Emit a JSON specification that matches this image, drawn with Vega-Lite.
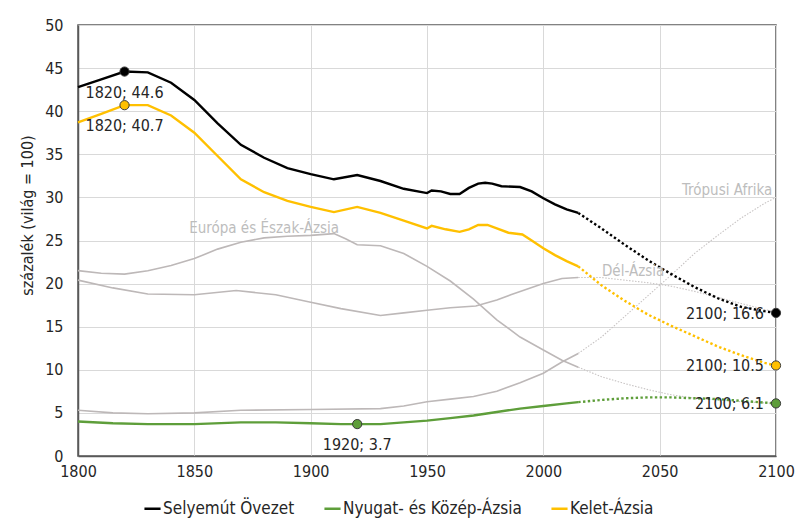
{
  "$schema": "https://vega.github.io/schema/vega-lite/v6.json",
  "autosize": {"type": "none"},
  "padding": {"left": 78, "top": 25, "right": 22, "bottom": 71},
  "width": 698,
  "height": 431,
  "background": "white",
  "config": {
    "font": "DejaVu Sans Condensed",
    "view": {"stroke": "#595959", "strokeWidth": 1.5},
    "axis": {
      "labelFont": "DejaVu Sans Condensed",
      "labelFontSize": 16,
      "labelColor": "#262626",
      "gridColor": "#d9d9d9",
      "gridWidth": 1,
      "ticks": false,
      "domainColor": "#595959",
      "domainWidth": 1.5
    },
    "legend": {
      "labelFont": "DejaVu Sans Condensed",
      "labelFontSize": 17,
      "labelColor": "#262626",
      "labelLimit": 400
    }
  },
  "resolve": {"scale": {"color": "independent"}},
  "datasets": {
    "lines": [
      {"year": 1800, "series": "Selyemút Övezet", "part": "hist", "value": 42.8},
      {"year": 1810, "series": "Selyemút Övezet", "part": "hist", "value": 43.7},
      {"year": 1820, "series": "Selyemút Övezet", "part": "hist", "value": 44.6},
      {"year": 1830, "series": "Selyemút Övezet", "part": "hist", "value": 44.5},
      {"year": 1840, "series": "Selyemút Övezet", "part": "hist", "value": 43.3},
      {"year": 1850, "series": "Selyemút Övezet", "part": "hist", "value": 41.3},
      {"year": 1860, "series": "Selyemút Övezet", "part": "hist", "value": 38.6},
      {"year": 1870, "series": "Selyemút Övezet", "part": "hist", "value": 36.1},
      {"year": 1880, "series": "Selyemút Övezet", "part": "hist", "value": 34.6},
      {"year": 1890, "series": "Selyemút Övezet", "part": "hist", "value": 33.4},
      {"year": 1900, "series": "Selyemút Övezet", "part": "hist", "value": 32.7},
      {"year": 1910, "series": "Selyemút Övezet", "part": "hist", "value": 32.1},
      {"year": 1920, "series": "Selyemút Övezet", "part": "hist", "value": 32.6},
      {"year": 1930, "series": "Selyemút Övezet", "part": "hist", "value": 31.9},
      {"year": 1940, "series": "Selyemút Övezet", "part": "hist", "value": 31.0},
      {"year": 1950, "series": "Selyemút Övezet", "part": "hist", "value": 30.5},
      {"year": 1952, "series": "Selyemút Övezet", "part": "hist", "value": 30.8},
      {"year": 1956, "series": "Selyemút Övezet", "part": "hist", "value": 30.7},
      {"year": 1960, "series": "Selyemút Övezet", "part": "hist", "value": 30.4},
      {"year": 1964, "series": "Selyemút Övezet", "part": "hist", "value": 30.4},
      {"year": 1968, "series": "Selyemút Övezet", "part": "hist", "value": 31.1},
      {"year": 1972, "series": "Selyemút Övezet", "part": "hist", "value": 31.6},
      {"year": 1975, "series": "Selyemút Övezet", "part": "hist", "value": 31.7},
      {"year": 1978, "series": "Selyemút Övezet", "part": "hist", "value": 31.6},
      {"year": 1982, "series": "Selyemút Övezet", "part": "hist", "value": 31.3},
      {"year": 1990, "series": "Selyemút Övezet", "part": "hist", "value": 31.2},
      {"year": 1995, "series": "Selyemút Övezet", "part": "hist", "value": 30.7},
      {"year": 2000, "series": "Selyemút Övezet", "part": "hist", "value": 29.9},
      {"year": 2005, "series": "Selyemút Övezet", "part": "hist", "value": 29.2},
      {"year": 2010, "series": "Selyemút Övezet", "part": "hist", "value": 28.6},
      {"year": 2015, "series": "Selyemút Övezet", "part": "hist", "value": 28.2},
      {"year": 2015, "series": "Selyemút Övezet", "part": "proj", "value": 28.2},
      {"year": 2025, "series": "Selyemút Övezet", "part": "proj", "value": 26.4},
      {"year": 2035, "series": "Selyemút Övezet", "part": "proj", "value": 24.5},
      {"year": 2045, "series": "Selyemút Övezet", "part": "proj", "value": 22.7},
      {"year": 2055, "series": "Selyemút Övezet", "part": "proj", "value": 21.1},
      {"year": 2065, "series": "Selyemút Övezet", "part": "proj", "value": 19.6},
      {"year": 2075, "series": "Selyemút Övezet", "part": "proj", "value": 18.3},
      {"year": 2085, "series": "Selyemút Övezet", "part": "proj", "value": 17.3},
      {"year": 2095, "series": "Selyemút Övezet", "part": "proj", "value": 16.8},
      {"year": 2100, "series": "Selyemút Övezet", "part": "proj", "value": 16.6},

      {"year": 1800, "series": "Kelet-Ázsia", "part": "hist", "value": 38.7},
      {"year": 1810, "series": "Kelet-Ázsia", "part": "hist", "value": 39.7},
      {"year": 1820, "series": "Kelet-Ázsia", "part": "hist", "value": 40.7},
      {"year": 1830, "series": "Kelet-Ázsia", "part": "hist", "value": 40.7},
      {"year": 1840, "series": "Kelet-Ázsia", "part": "hist", "value": 39.5},
      {"year": 1850, "series": "Kelet-Ázsia", "part": "hist", "value": 37.5},
      {"year": 1860, "series": "Kelet-Ázsia", "part": "hist", "value": 34.8},
      {"year": 1870, "series": "Kelet-Ázsia", "part": "hist", "value": 32.1},
      {"year": 1880, "series": "Kelet-Ázsia", "part": "hist", "value": 30.6},
      {"year": 1890, "series": "Kelet-Ázsia", "part": "hist", "value": 29.6},
      {"year": 1900, "series": "Kelet-Ázsia", "part": "hist", "value": 28.9},
      {"year": 1910, "series": "Kelet-Ázsia", "part": "hist", "value": 28.3},
      {"year": 1920, "series": "Kelet-Ázsia", "part": "hist", "value": 28.9},
      {"year": 1930, "series": "Kelet-Ázsia", "part": "hist", "value": 28.2},
      {"year": 1940, "series": "Kelet-Ázsia", "part": "hist", "value": 27.3},
      {"year": 1950, "series": "Kelet-Ázsia", "part": "hist", "value": 26.4},
      {"year": 1952, "series": "Kelet-Ázsia", "part": "hist", "value": 26.7},
      {"year": 1958, "series": "Kelet-Ázsia", "part": "hist", "value": 26.3},
      {"year": 1964, "series": "Kelet-Ázsia", "part": "hist", "value": 26.0},
      {"year": 1968, "series": "Kelet-Ázsia", "part": "hist", "value": 26.3},
      {"year": 1972, "series": "Kelet-Ázsia", "part": "hist", "value": 26.8},
      {"year": 1976, "series": "Kelet-Ázsia", "part": "hist", "value": 26.8},
      {"year": 1980, "series": "Kelet-Ázsia", "part": "hist", "value": 26.4},
      {"year": 1985, "series": "Kelet-Ázsia", "part": "hist", "value": 25.9},
      {"year": 1991, "series": "Kelet-Ázsia", "part": "hist", "value": 25.7},
      {"year": 1995, "series": "Kelet-Ázsia", "part": "hist", "value": 25.0},
      {"year": 2000, "series": "Kelet-Ázsia", "part": "hist", "value": 24.1},
      {"year": 2005, "series": "Kelet-Ázsia", "part": "hist", "value": 23.3},
      {"year": 2010, "series": "Kelet-Ázsia", "part": "hist", "value": 22.6},
      {"year": 2015, "series": "Kelet-Ázsia", "part": "hist", "value": 22.0},
      {"year": 2015, "series": "Kelet-Ázsia", "part": "proj", "value": 22.0},
      {"year": 2025, "series": "Kelet-Ázsia", "part": "proj", "value": 19.8},
      {"year": 2035, "series": "Kelet-Ázsia", "part": "proj", "value": 18.0},
      {"year": 2045, "series": "Kelet-Ázsia", "part": "proj", "value": 16.4},
      {"year": 2055, "series": "Kelet-Ázsia", "part": "proj", "value": 15.1},
      {"year": 2065, "series": "Kelet-Ázsia", "part": "proj", "value": 13.9},
      {"year": 2075, "series": "Kelet-Ázsia", "part": "proj", "value": 12.7},
      {"year": 2085, "series": "Kelet-Ázsia", "part": "proj", "value": 11.7},
      {"year": 2095, "series": "Kelet-Ázsia", "part": "proj", "value": 10.8},
      {"year": 2100, "series": "Kelet-Ázsia", "part": "proj", "value": 10.5},

      {"year": 1800, "series": "Nyugat- és Közép-Ázsia", "part": "hist", "value": 4.0},
      {"year": 1815, "series": "Nyugat- és Közép-Ázsia", "part": "hist", "value": 3.8},
      {"year": 1830, "series": "Nyugat- és Közép-Ázsia", "part": "hist", "value": 3.7},
      {"year": 1850, "series": "Nyugat- és Közép-Ázsia", "part": "hist", "value": 3.7},
      {"year": 1870, "series": "Nyugat- és Közép-Ázsia", "part": "hist", "value": 3.9},
      {"year": 1885, "series": "Nyugat- és Közép-Ázsia", "part": "hist", "value": 3.9},
      {"year": 1900, "series": "Nyugat- és Közép-Ázsia", "part": "hist", "value": 3.8},
      {"year": 1913, "series": "Nyugat- és Közép-Ázsia", "part": "hist", "value": 3.7},
      {"year": 1920, "series": "Nyugat- és Közép-Ázsia", "part": "hist", "value": 3.7},
      {"year": 1930, "series": "Nyugat- és Közép-Ázsia", "part": "hist", "value": 3.7},
      {"year": 1940, "series": "Nyugat- és Közép-Ázsia", "part": "hist", "value": 3.9},
      {"year": 1950, "series": "Nyugat- és Közép-Ázsia", "part": "hist", "value": 4.1},
      {"year": 1960, "series": "Nyugat- és Közép-Ázsia", "part": "hist", "value": 4.4},
      {"year": 1970, "series": "Nyugat- és Közép-Ázsia", "part": "hist", "value": 4.7},
      {"year": 1980, "series": "Nyugat- és Közép-Ázsia", "part": "hist", "value": 5.1},
      {"year": 1990, "series": "Nyugat- és Közép-Ázsia", "part": "hist", "value": 5.5},
      {"year": 2000, "series": "Nyugat- és Közép-Ázsia", "part": "hist", "value": 5.8},
      {"year": 2010, "series": "Nyugat- és Közép-Ázsia", "part": "hist", "value": 6.1},
      {"year": 2015, "series": "Nyugat- és Közép-Ázsia", "part": "hist", "value": 6.25},
      {"year": 2015, "series": "Nyugat- és Közép-Ázsia", "part": "proj", "value": 6.25},
      {"year": 2025, "series": "Nyugat- és Közép-Ázsia", "part": "proj", "value": 6.5},
      {"year": 2035, "series": "Nyugat- és Közép-Ázsia", "part": "proj", "value": 6.7},
      {"year": 2045, "series": "Nyugat- és Közép-Ázsia", "part": "proj", "value": 6.8},
      {"year": 2055, "series": "Nyugat- és Közép-Ázsia", "part": "proj", "value": 6.8},
      {"year": 2065, "series": "Nyugat- és Közép-Ázsia", "part": "proj", "value": 6.7},
      {"year": 2075, "series": "Nyugat- és Közép-Ázsia", "part": "proj", "value": 6.6},
      {"year": 2085, "series": "Nyugat- és Közép-Ázsia", "part": "proj", "value": 6.4},
      {"year": 2095, "series": "Nyugat- és Közép-Ázsia", "part": "proj", "value": 6.2},
      {"year": 2100, "series": "Nyugat- és Közép-Ázsia", "part": "proj", "value": 6.1},

      {"year": 1800, "series": "Európa és Észak-Ázsia", "part": "hist", "value": 21.5},
      {"year": 1810, "series": "Európa és Észak-Ázsia", "part": "hist", "value": 21.2},
      {"year": 1820, "series": "Európa és Észak-Ázsia", "part": "hist", "value": 21.1},
      {"year": 1830, "series": "Európa és Észak-Ázsia", "part": "hist", "value": 21.5},
      {"year": 1840, "series": "Európa és Észak-Ázsia", "part": "hist", "value": 22.1},
      {"year": 1850, "series": "Európa és Észak-Ázsia", "part": "hist", "value": 22.9},
      {"year": 1860, "series": "Európa és Észak-Ázsia", "part": "hist", "value": 24.0},
      {"year": 1870, "series": "Európa és Észak-Ázsia", "part": "hist", "value": 24.8},
      {"year": 1880, "series": "Európa és Észak-Ázsia", "part": "hist", "value": 25.3},
      {"year": 1890, "series": "Európa és Észak-Ázsia", "part": "hist", "value": 25.5},
      {"year": 1900, "series": "Európa és Észak-Ázsia", "part": "hist", "value": 25.6},
      {"year": 1910, "series": "Európa és Észak-Ázsia", "part": "hist", "value": 25.8},
      {"year": 1915, "series": "Európa és Észak-Ázsia", "part": "hist", "value": 25.2},
      {"year": 1920, "series": "Európa és Észak-Ázsia", "part": "hist", "value": 24.5},
      {"year": 1930, "series": "Európa és Észak-Ázsia", "part": "hist", "value": 24.4},
      {"year": 1940, "series": "Európa és Észak-Ázsia", "part": "hist", "value": 23.5},
      {"year": 1950, "series": "Európa és Észak-Ázsia", "part": "hist", "value": 22.0},
      {"year": 1960, "series": "Európa és Észak-Ázsia", "part": "hist", "value": 20.3},
      {"year": 1970, "series": "Európa és Észak-Ázsia", "part": "hist", "value": 18.2},
      {"year": 1980, "series": "Európa és Észak-Ázsia", "part": "hist", "value": 15.8},
      {"year": 1990, "series": "Európa és Észak-Ázsia", "part": "hist", "value": 13.8},
      {"year": 2000, "series": "Európa és Észak-Ázsia", "part": "hist", "value": 12.3},
      {"year": 2008, "series": "Európa és Észak-Ázsia", "part": "hist", "value": 11.1},
      {"year": 2015, "series": "Európa és Észak-Ázsia", "part": "hist", "value": 10.3},
      {"year": 2015, "series": "Európa és Észak-Ázsia", "part": "proj", "value": 10.3},
      {"year": 2025, "series": "Európa és Észak-Ázsia", "part": "proj", "value": 9.2},
      {"year": 2035, "series": "Európa és Észak-Ázsia", "part": "proj", "value": 8.4},
      {"year": 2045, "series": "Európa és Észak-Ázsia", "part": "proj", "value": 7.7},
      {"year": 2055, "series": "Európa és Észak-Ázsia", "part": "proj", "value": 7.1},
      {"year": 2065, "series": "Európa és Észak-Ázsia", "part": "proj", "value": 6.7},
      {"year": 2075, "series": "Európa és Észak-Ázsia", "part": "proj", "value": 6.5},
      {"year": 2085, "series": "Európa és Észak-Ázsia", "part": "proj", "value": 6.3},
      {"year": 2100, "series": "Európa és Észak-Ázsia", "part": "proj", "value": 6.1},

      {"year": 1800, "series": "Dél-Ázsia", "part": "hist", "value": 20.4},
      {"year": 1815, "series": "Dél-Ázsia", "part": "hist", "value": 19.5},
      {"year": 1830, "series": "Dél-Ázsia", "part": "hist", "value": 18.8},
      {"year": 1850, "series": "Dél-Ázsia", "part": "hist", "value": 18.7},
      {"year": 1868, "series": "Dél-Ázsia", "part": "hist", "value": 19.2},
      {"year": 1885, "series": "Dél-Ázsia", "part": "hist", "value": 18.7},
      {"year": 1899, "series": "Dél-Ázsia", "part": "hist", "value": 17.9},
      {"year": 1913, "series": "Dél-Ázsia", "part": "hist", "value": 17.1},
      {"year": 1930, "series": "Dél-Ázsia", "part": "hist", "value": 16.3},
      {"year": 1940, "series": "Dél-Ázsia", "part": "hist", "value": 16.6},
      {"year": 1950, "series": "Dél-Ázsia", "part": "hist", "value": 16.9},
      {"year": 1960, "series": "Dél-Ázsia", "part": "hist", "value": 17.2},
      {"year": 1971, "series": "Dél-Ázsia", "part": "hist", "value": 17.4},
      {"year": 1980, "series": "Dél-Ázsia", "part": "hist", "value": 18.1},
      {"year": 1986, "series": "Dél-Ázsia", "part": "hist", "value": 18.7},
      {"year": 2000, "series": "Dél-Ázsia", "part": "hist", "value": 20.0},
      {"year": 2008, "series": "Dél-Ázsia", "part": "hist", "value": 20.6},
      {"year": 2015, "series": "Dél-Ázsia", "part": "hist", "value": 20.7},
      {"year": 2015, "series": "Dél-Ázsia", "part": "proj", "value": 20.7},
      {"year": 2025, "series": "Dél-Ázsia", "part": "proj", "value": 20.7},
      {"year": 2035, "series": "Dél-Ázsia", "part": "proj", "value": 20.4},
      {"year": 2045, "series": "Dél-Ázsia", "part": "proj", "value": 20.1},
      {"year": 2055, "series": "Dél-Ázsia", "part": "proj", "value": 19.7},
      {"year": 2065, "series": "Dél-Ázsia", "part": "proj", "value": 19.1},
      {"year": 2075, "series": "Dél-Ázsia", "part": "proj", "value": 18.4},
      {"year": 2085, "series": "Dél-Ázsia", "part": "proj", "value": 17.7},
      {"year": 2095, "series": "Dél-Ázsia", "part": "proj", "value": 17.0},
      {"year": 2100, "series": "Dél-Ázsia", "part": "proj", "value": 16.7},

      {"year": 1800, "series": "Trópusi Afrika", "part": "hist", "value": 5.3},
      {"year": 1815, "series": "Trópusi Afrika", "part": "hist", "value": 5.0},
      {"year": 1830, "series": "Trópusi Afrika", "part": "hist", "value": 4.9},
      {"year": 1850, "series": "Trópusi Afrika", "part": "hist", "value": 5.0},
      {"year": 1870, "series": "Trópusi Afrika", "part": "hist", "value": 5.3},
      {"year": 1900, "series": "Trópusi Afrika", "part": "hist", "value": 5.4},
      {"year": 1930, "series": "Trópusi Afrika", "part": "hist", "value": 5.5},
      {"year": 1940, "series": "Trópusi Afrika", "part": "hist", "value": 5.8},
      {"year": 1950, "series": "Trópusi Afrika", "part": "hist", "value": 6.3},
      {"year": 1960, "series": "Trópusi Afrika", "part": "hist", "value": 6.6},
      {"year": 1970, "series": "Trópusi Afrika", "part": "hist", "value": 6.9},
      {"year": 1980, "series": "Trópusi Afrika", "part": "hist", "value": 7.5},
      {"year": 1990, "series": "Trópusi Afrika", "part": "hist", "value": 8.5},
      {"year": 2000, "series": "Trópusi Afrika", "part": "hist", "value": 9.6},
      {"year": 2008, "series": "Trópusi Afrika", "part": "hist", "value": 10.9},
      {"year": 2015, "series": "Trópusi Afrika", "part": "hist", "value": 11.9},
      {"year": 2015, "series": "Trópusi Afrika", "part": "proj", "value": 11.9},
      {"year": 2025, "series": "Trópusi Afrika", "part": "proj", "value": 13.8},
      {"year": 2035, "series": "Trópusi Afrika", "part": "proj", "value": 16.2},
      {"year": 2045, "series": "Trópusi Afrika", "part": "proj", "value": 18.6},
      {"year": 2055, "series": "Trópusi Afrika", "part": "proj", "value": 21.0},
      {"year": 2065, "series": "Trópusi Afrika", "part": "proj", "value": 23.5},
      {"year": 2075, "series": "Trópusi Afrika", "part": "proj", "value": 25.6},
      {"year": 2085, "series": "Trópusi Afrika", "part": "proj", "value": 27.6},
      {"year": 2095, "series": "Trópusi Afrika", "part": "proj", "value": 29.3},
      {"year": 2100, "series": "Trópusi Afrika", "part": "proj", "value": 30.0}
    ],
    "points": [
      {"year": 1820, "series": "Selyemút Övezet", "value": 44.6, "label": "1820;  44.6", "side": "below"},
      {"year": 1820, "series": "Kelet-Ázsia", "value": 40.7, "label": "1820;  40.7", "side": "below"},
      {"year": 1920, "series": "Nyugat- és Közép-Ázsia", "value": 3.7, "label": "1920;  3.7", "side": "below"},
      {"year": 2100, "series": "Selyemút Övezet", "value": 16.6, "label": "2100;  16.6", "side": "left"},
      {"year": 2100, "series": "Kelet-Ázsia", "value": 10.5, "label": "2100;  10.5", "side": "left"},
      {"year": 2100, "series": "Nyugat- és Közép-Ázsia", "value": 6.1, "label": "2100;  6.1", "side": "left"}
    ],
    "names": [
      {"year": 1880, "value": 26.4, "name": "Európa és Észak-Ázsia", "anchor": "center"},
      {"year": 2038.6, "value": 21.5, "name": "Dél-Ázsia", "anchor": "center"},
      {"year": 2098.4, "value": 30.9, "name": "Trópusi Afrika", "anchor": "right"}
    ]
  },
  "encoding": {
    "x": {
      "field": "year", "type": "quantitative",
      "scale": {"domain": [1800, 2100], "nice": false, "zero": false},
      "axis": {"values": [1800, 1850, 1900, 1950, 2000, 2050, 2100], "format": "d", "title": null, "labelPadding": 7, "labelFlush": false}
    },
    "y": {
      "field": "value", "type": "quantitative",
      "scale": {"domain": [0, 50], "nice": false},
      "axis": {
        "values": [0, 5, 10, 15, 20, 25, 30, 35, 40, 45, 50],
        "title": "százalék (világ = 100)",
        "titleFont": "DejaVu Sans Condensed",
        "titleFontSize": 16,
        "titleFontWeight": "normal",
        "titleColor": "#262626",
        "titleAngle": -90,
        "titleBaseline": "middle",
        "titleAlign": "center",
        "titleX": -51,
        "titleY": 190,
        "labelPadding": 15,
        "domain": true
      }
    }
  },
  "layer": [
    {
      "data": {"name": "lines"},
      "transform": [
        {"filter": {"field": "part", "equal": "hist"}},
        {"filter": {"field": "series", "oneOf": ["Európa és Észak-Ázsia", "Dél-Ázsia", "Trópusi Afrika"]}}
      ],
      "mark": {"type": "line", "color": "#bdb8b8", "strokeWidth": 1.6},
      "encoding": {"detail": {"field": "series"}}
    },
    {
      "data": {"name": "lines"},
      "transform": [
        {"filter": {"field": "part", "equal": "proj"}},
        {"filter": {"field": "series", "oneOf": ["Európa és Észak-Ázsia", "Dél-Ázsia", "Trópusi Afrika"]}}
      ],
      "mark": {"type": "line", "color": "#c8c4c4", "strokeWidth": 1.1, "strokeDash": [1.5, 1.5]},
      "encoding": {"detail": {"field": "series"}}
    },
    {
      "data": {"name": "lines"},
      "transform": [
        {"filter": {"field": "part", "equal": "hist"}},
        {"filter": {"field": "series", "oneOf": ["Selyemút Övezet", "Nyugat- és Közép-Ázsia", "Kelet-Ázsia"]}}
      ],
      "mark": {"type": "line", "strokeWidth": 2.4},
      "encoding": {
        "color": {"field": "series", "type": "nominal",
          "scale": {"domain": ["Selyemút Övezet", "Nyugat- és Közép-Ázsia", "Kelet-Ázsia"], "range": ["#000000", "#5e9e3a", "#ffc000"]},
          "legend": {
            "title": null, "orient": "none", "direction": "horizontal",
            "legendX": 65, "legendY": 474,
            "symbolType": "stroke", "symbolStrokeWidth": 2.5, "symbolSize": 260,
            "labelOffset": 1, "columnPadding": 24, "symbolOffset": 0, "labelLimit": 400
          }
        }
      }
    },
    {
      "data": {"name": "lines"},
      "transform": [
        {"filter": {"field": "part", "equal": "proj"}},
        {"filter": {"field": "series", "oneOf": ["Selyemút Övezet", "Nyugat- és Közép-Ázsia", "Kelet-Ázsia"]}}
      ],
      "mark": {"type": "line", "strokeWidth": 2.4, "strokeDash": [2.4, 2.4]},
      "encoding": {
        "color": {"field": "series", "type": "nominal", "legend": null,
          "scale": {"domain": ["Selyemút Övezet", "Nyugat- és Közép-Ázsia", "Kelet-Ázsia"], "range": ["#000000", "#5e9e3a", "#ffc000"]}}
      }
    },
    {
      "data": {"name": "points"},
      "mark": {"type": "circle", "size": 85, "opacity": 1, "stroke": "#3a3a3a", "strokeWidth": 1},
      "encoding": {
        "color": {"field": "series", "type": "nominal", "legend": null,
          "scale": {"domain": ["Selyemút Övezet", "Nyugat- és Közép-Ázsia", "Kelet-Ázsia"], "range": ["#000000", "#5e9e3a", "#ffc000"]}}
      }
    },
    {
      "data": {"name": "points"},
      "transform": [{"filter": {"field": "side", "equal": "below"}}],
      "mark": {"type": "text", "align": "center", "baseline": "middle", "dy": 21, "fontSize": 16, "color": "#262626", "font": "DejaVu Sans Condensed"},
      "encoding": {"text": {"field": "label"}}
    },
    {
      "data": {"name": "points"},
      "transform": [{"filter": {"field": "side", "equal": "left"}}],
      "mark": {"type": "text", "align": "right", "baseline": "middle", "dx": -12, "dy": 1, "fontSize": 16, "color": "#262626", "font": "DejaVu Sans Condensed"},
      "encoding": {"text": {"field": "label"}}
    },
    {
      "data": {"name": "names"},
      "transform": [{"filter": {"field": "anchor", "equal": "center"}}],
      "mark": {"type": "text", "align": "center", "baseline": "middle", "fontSize": 15, "color": "#bdbdbd", "font": "DejaVu Sans Condensed"},
      "encoding": {"text": {"field": "name"}}
    },
    {
      "data": {"name": "names"},
      "transform": [{"filter": {"field": "anchor", "equal": "right"}}],
      "mark": {"type": "text", "align": "right", "baseline": "middle", "fontSize": 15, "color": "#bdbdbd", "font": "DejaVu Sans Condensed"},
      "encoding": {"text": {"field": "name"}}
    }
  ]
}
